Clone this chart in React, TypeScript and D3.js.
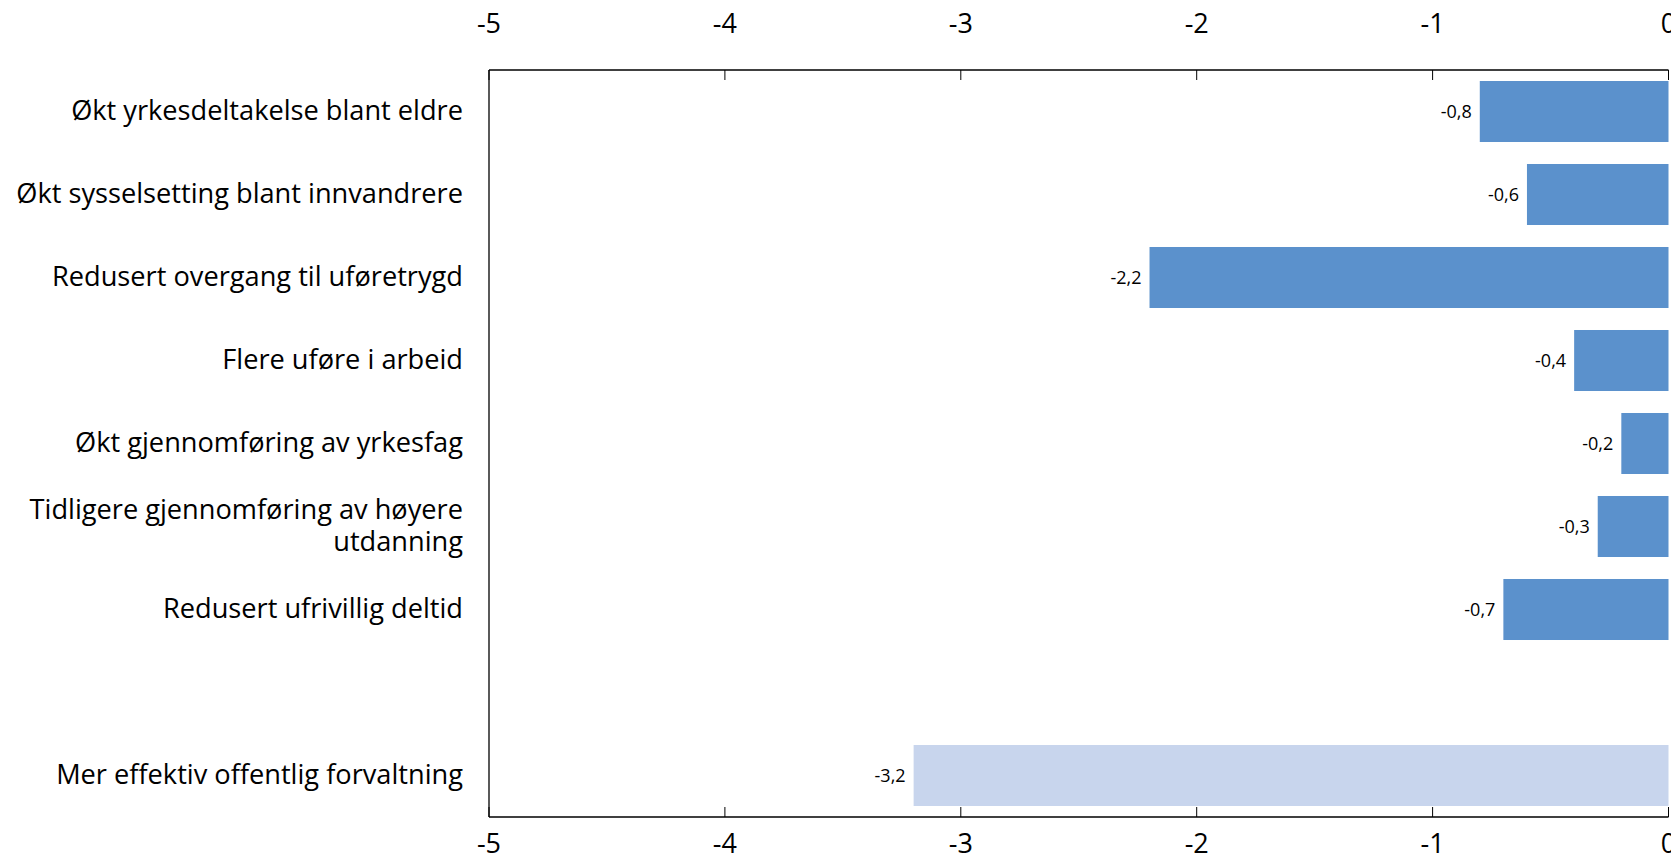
import React from "react";
import * as d3 from "d3";

const categories = [
  "Økt yrkesdeltakelse blant eldre",
  "Økt sysselsetting blant innvandrere",
  "Redusert overgang til uføretrygd",
  "Flere uføre i arbeid",
  "Økt gjennomføring av yrkesfag",
  "Tidligere gjennomføring av høyere\nutdanning",
  "Redusert ufrivillig deltid",
  "",
  "Mer effektiv offentlig forvaltning",
];
const values: (number | null)[] = [-0.8, -0.6, -2.2, -0.4, -0.2, -0.3, -0.7, null, -3.2];
const highlight = [false, false, false, false, false, false, false, false, true];
const xTicks = [-5, -4, -3, -2, -1, 0];

const W = 1671;
const H = 856;

export default function App() {
  const left = 489;
  const right = 1668.5;
  const top = 70;
  const bottom = 817;
  const x = d3.scaleLinear().domain([-5, 0]).range([left, right]);
  const keys = categories.map((c, i) => `${i}`);
  const y = d3
    .scaleBand<string>()
    .domain(keys)
    .range([top, bottom])
    .paddingInner(0.265)
    .paddingOuter(0.1325);
  const font = "'Open Sans', 'Noto Sans', sans-serif";
  const fmt = (v: number) => d3.format(".1f")(v).replace(".", ",").replace("−", "-");

  return (
    <svg
      width={W}
      height={H}
      style={{ position: "absolute", left: 0, top: 0, background: "#fff" }}
      fontFamily={font}
    >
      {values.map((v, i) =>
        v == null ? null : (
          <g key={i}>
            <rect
              x={x(v)}
              y={y(keys[i])}
              width={x(0) - x(v)}
              height={y.bandwidth()}
              fill={highlight[i] ? "#C8D5ED" : "#5B91CC"}
            />
            <text
              x={x(v) - 8}
              y={(y(keys[i]) as number) + y.bandwidth() / 2}
              dy="0.35em"
              textAnchor="end"
              fontSize={18}
              fill="#000"
            >
              {fmt(v)}
            </text>
          </g>
        )
      )}
      <line x1={left} x2={right} y1={top} y2={top} stroke="#000" strokeWidth={1.3} />
      <line x1={left} x2={right} y1={bottom} y2={bottom} stroke="#000" strokeWidth={1.3} />
      <line x1={left} x2={left} y1={top} y2={bottom} stroke="#000" strokeWidth={1.3} />
      {xTicks.map((t) => (
        <g key={t}>
          <line x1={x(t)} x2={x(t)} y1={top} y2={top + 10} stroke="#000" strokeWidth={1} />
          <line x1={x(t)} x2={x(t)} y1={bottom} y2={bottom - 10} stroke="#000" strokeWidth={1} />
          <text x={x(t)} y={33} textAnchor="middle" fontSize={27} fill="#000">
            {t < 0 ? `-${Math.abs(t)}` : `${t}`}
          </text>
          <text x={x(t)} y={853} textAnchor="middle" fontSize={27} fill="#000">
            {t < 0 ? `-${Math.abs(t)}` : `${t}`}
          </text>
        </g>
      ))}
      {categories.map((c, i) => {
        const lines = c.split("\n");
        const cy = (y(keys[i]) as number) + y.bandwidth() / 2;
        const lh = 32;
        return (
          <text key={i} x={463} textAnchor="end" fontSize={27.2} fill="#000">
            {lines.map((l, j) => (
              <tspan key={j} x={463} y={cy - 1 + (j - (lines.length - 1) / 2) * lh} dy="0.35em">
                {l}
              </tspan>
            ))}
          </text>
        );
      })}
    </svg>
  );
}
